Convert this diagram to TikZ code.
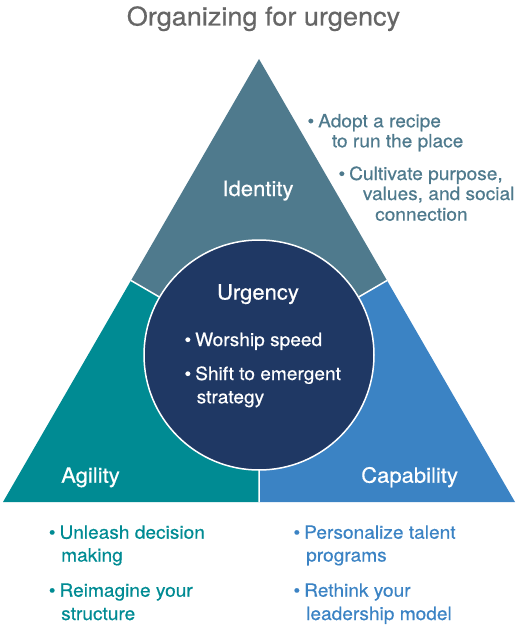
\documentclass[tikz,border=0pt]{standalone}
\usepackage{fontspec}
\setmainfont{TeX Gyre Heros}[FakeStretch=1.05, FakeBold=0.5]
\definecolor{identc}{HTML}{4F7A8D}
\definecolor{agilc}{HTML}{008B93}
\definecolor{capc}{HTML}{3B83C4}
\definecolor{urgc}{HTML}{1F3864}
\definecolor{titlec}{HTML}{666666}
\newcommand\mybul{\llap{\textbullet\hspace{4pt}}}
\newcommand\fsbody{\fontsize{18.2}{22}\selectfont}
\newcommand\fslabel{\fontsize{21}{24}\selectfont}
\newcommand\fstitle{\fontsize{25.8}{28}\selectfont}
\begin{document}
\begin{tikzpicture}[x=1pt,y=-1pt,
  txt/.style={inner sep=0pt, anchor=base west, font=\fsbody},
  lbl/.style={inner sep=0pt, anchor=base, font=\fslabel, text=white},
  divider/.style={white, line width=1.5pt}]
\useasboundingbox (0,0) rectangle (515,626);
\coordinate (A) at (259,59);
\coordinate (L) at (3,502);
\coordinate (R) at (515,502);
\coordinate (ML) at (131,280.5);
\coordinate (MR) at (387,280.5);
\coordinate (MB) at (259,502);
\coordinate (O) at (259,355);
\fill[identc] (A) -- (MR) -- (O) -- (ML) -- cycle;
\fill[agilc] (ML) -- (O) -- (MB) -- (L) -- cycle;
\fill[capc] (MR) -- (R) -- (MB) -- (O) -- cycle;
\draw[divider] (ML) -- (O) -- (MR) (O) -- (MB);
\node[circle, fill=urgc, draw=white, line width=1.5pt, minimum size=230pt, inner sep=0pt] (urg) at (O) {};

\node[inner sep=0pt, anchor=base, font=\fstitle, text=titlec] (title) at (263.5,25.5) {Organizing for urgency};

\node[lbl] (ident) at (258,196) {Identity};
\node[lbl] (urgl) at (258,299.5) {Urgency};
\node[lbl, anchor=base west] (agil) at (61,482.7) {Agility};
\node[lbl, anchor=base west] (cap) at (361,482.7) {Capability};

\node[txt, text=white] (u1) at (195,346) {\mybul Worship speed};
\node[txt, text=white] (u2) at (195,380) {\mybul Shift to emergent};
\node[txt, text=white] (u3) at (196.5,403.3) {strategy};

\node[txt, text=identc] (i1) at (318,127.3) {\mybul Adopt a recipe};
\node[txt, text=identc] (i2) at (331.7,147.3) {to run the place};
\node[txt, text=identc] (i3) at (349,180) {\mybul Cultivate purpose,};
\node[txt, text=identc] (i4) at (362.7,200) {values, and social};
\node[txt, text=identc] (i5) at (375,220.7) {connection};

\node[txt, text=agilc] (a1) at (59.3,538.7) {\mybul Unleash decision};
\node[txt, text=agilc] (a2) at (61,561.5) {making};
\node[txt, text=agilc] (a3) at (59.3,596.7) {\mybul Reimagine your};
\node[txt, text=agilc] (a4) at (61,620) {structure};

\node[txt, text=capc] (c1) at (304,538.7) {\mybul Personalize talent};
\node[txt, text=capc] (c2) at (306,561.5) {programs};
\node[txt, text=capc] (c3) at (304,596.7) {\mybul Rethink your};
\node[txt, text=capc] (c4) at (306,620) {leadership model};
\end{tikzpicture}
\end{document}
